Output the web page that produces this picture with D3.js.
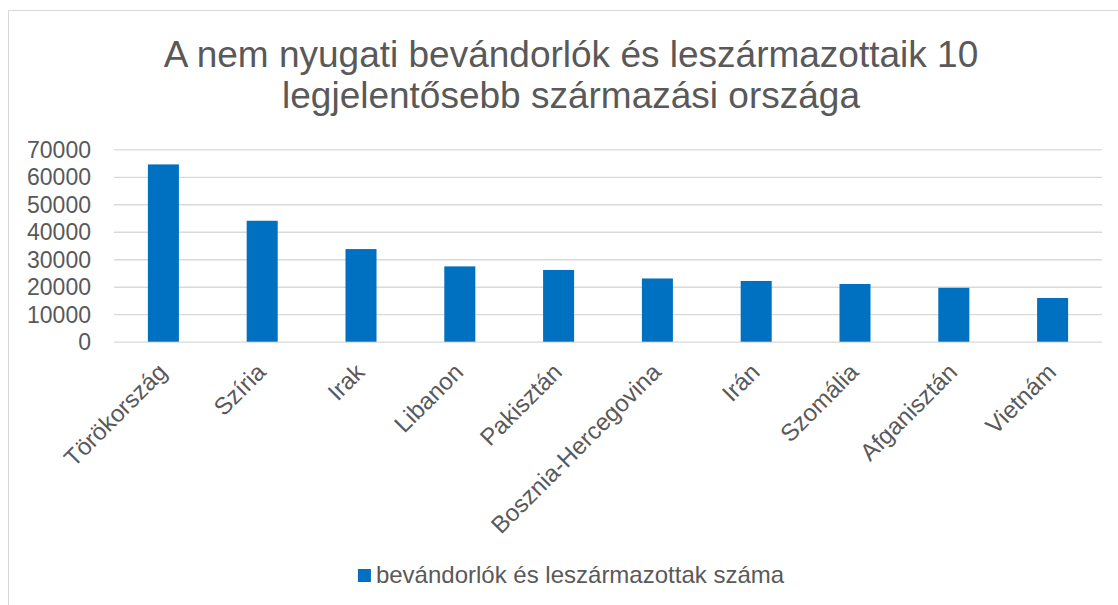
<!DOCTYPE html>
<html>
<head>
<meta charset="utf-8">
<script src="https://cdn.jsdelivr.net/npm/d3@7"></script>
<style>
  body { margin: 0; background: #fff; }
  text { font-family: "Liberation Sans", Arial, sans-serif; fill: #595959; }
</style>
</head>
<body>
<svg id="chart"></svg>
<script>
// adatok
const countries = ["Törökország", "Szíria", "Irak", "Libanon", "Pakisztán",
  "Bosznia-Hercegovina", "Irán", "Szomália", "Afganisztán", "Vietnám"];
const counts = [64500, 44000, 33700, 27400, 26100, 23000, 22100, 21000, 19600, 15900];
const yTicks = [0, 10000, 20000, 30000, 40000, 50000, 60000, 70000];
const titleLines = ["A nem nyugati bevándorlók és leszármazottaik 10", "legjelentősebb származási országa"];
const seriesName = "bevándorlók és leszármazottak száma";

const width = 1118, height = 605;
const marginLeft = 114, plotRight = 1102, plotTop = 149.3, plotBottom = 341.7;
const cx = 571;
const barColor = "#0070C0";

const data = countries.map((c, i) => ({ name: c, value: counts[i] }));

const svg = d3.select("#chart").attr("width", width).attr("height", height);

// keret
svg.append("rect")
  .attr("x", 8.5).attr("y", 10.5)
  .attr("width", 1125).attr("height", 700)
  .attr("fill", "none").attr("stroke", "#d9d9d9");

// méretarányok
const x = d3.scaleBand()
  .domain(countries)
  .range([marginLeft, plotRight])
  .paddingInner(0.686)
  .paddingOuter(0.343);
const y = d3.scaleLinear().domain([0, 70000]).range([plotBottom, plotTop]);

// rácsvonalak + y tengely
const yAxis = d3.axisLeft(y).tickValues(yTicks).tickSize(0).tickPadding(0).tickFormat(d3.format("d"));
svg.append("g")
  .attr("transform", `translate(${marginLeft},0)`)
  .call(yAxis)
  .call(g => g.select(".domain").remove())
  .call(g => g.selectAll(".tick line").clone()
    .attr("x2", plotRight - marginLeft)
    .attr("stroke", "#d9d9d9").attr("stroke-width", 1.3))
  .call(g => g.selectAll(".tick text")
    .attr("x", -23)
    .attr("dy", "0.35em")
    .style("font-size", "23px")
    .style("font-family", "Liberation Sans, Arial, sans-serif")
    .attr("fill", "#595959"));

// oszlopok
svg.selectAll("rect.bar")
  .data(data)
  .enter()
  .append("rect")
  .attr("class", "bar")
  .attr("x", d => x(d.name))
  .attr("y", d => y(d.value))
  .attr("width", x.bandwidth())
  .attr("height", d => y(0) - y(d.value))
  .attr("fill", barColor);

// x tengely feliratai
const xAxis = d3.axisBottom(x).tickSize(0).tickPadding(0);
svg.append("g")
  .attr("transform", `translate(0,${plotBottom})`)
  .call(xAxis)
  .call(g => g.select(".domain").remove())
  .call(g => g.selectAll(".tick text")
    .attr("text-anchor", "end")
    .attr("y", 0)
    .attr("dy", "0.35em")
    .attr("transform", "translate(-1,26) rotate(-45)")
    .style("font-size", "24px")
    .style("font-family", "Liberation Sans, Arial, sans-serif")
    .attr("fill", "#595959"));

// cím
svg.append("text")
  .attr("x", cx)
  .attr("y", 67)
  .attr("text-anchor", "middle")
  .style("font-size", "37px")
  .selectAll("tspan")
  .data(titleLines)
  .enter()
  .append("tspan")
  .attr("x", cx)
  .attr("dy", (d, i) => i === 0 ? 0 : 41)
  .text(d => d);

// jelmagyarázat
const legend = svg.append("g");
const legText = legend.append("text")
  .attr("y", 583)
  .style("font-size", "24px")
  .text(seriesName);
const tw = legText.node().getComputedTextLength();
const lx = cx - (tw + 18) / 2;
legend.append("rect")
  .attr("x", lx).attr("y", 569)
  .attr("width", 13).attr("height", 13)
  .attr("fill", barColor);
legText.attr("x", lx + 18);
</script>
</body>
</html>
